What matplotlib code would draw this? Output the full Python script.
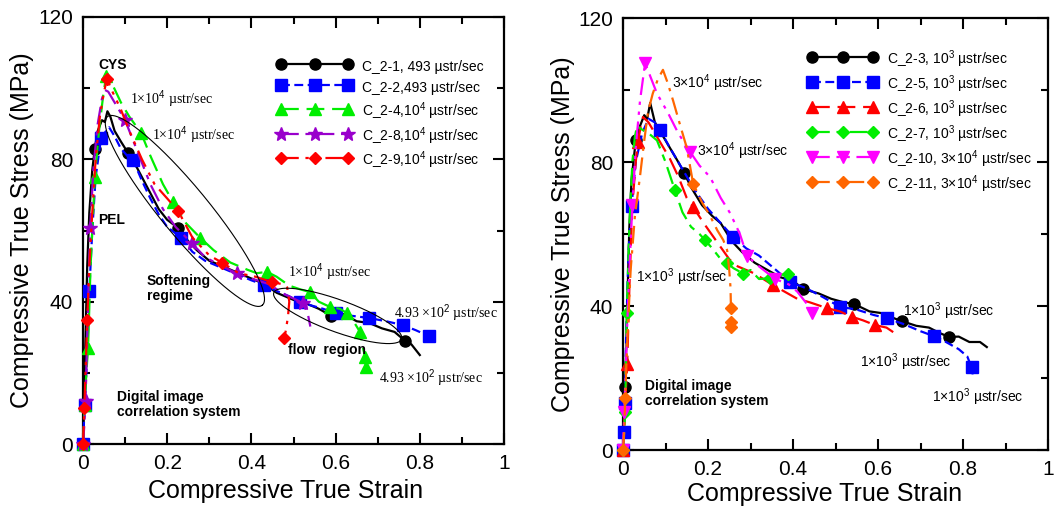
import numpy as np
import matplotlib
matplotlib.use('Agg')
import matplotlib.pyplot as plt
from matplotlib.ticker import MultipleLocator

plt.rcParams['font.family'] = ['Liberation Sans', 'DejaVu Sans']
plt.rcParams['mathtext.fontset'] = 'custom'
plt.rcParams['mathtext.rm'] = 'Liberation Sans'
plt.rcParams['mathtext.it'] = 'Liberation Sans:italic'
plt.rcParams['mathtext.bf'] = 'Liberation Sans:bold'

# ---- axis ticks ----
xticks = [0, 0.2, 0.4, 0.6, 0.8, 1.0]
xtick_labels = ['0', '0.2', '0.4', '0.6', '0.8', '1']
yticks = [0, 40, 80, 120]
ytick_labels = ['0', '40', '80', '120']

# ---- left panel data (strain, stress MPa) ----
x1 = [0, 0.002, 0.004, 0.007, 0.01, 0.015, 0.022, 0.028, 0.035, 0.045, 0.052, 0.058, 0.065, 0.075, 0.09,
      0.107, 0.12, 0.14, 0.16, 0.18, 0.2, 0.226, 0.25, 0.27, 0.3, 0.33, 0.36, 0.4, 0.43, 0.46, 0.5, 0.53,
      0.56, 0.59, 0.62, 0.65, 0.68, 0.71, 0.74, 0.765, 0.78, 0.79, 0.8]
y1 = [0, 8, 20, 35, 50, 65, 77, 83, 88, 91, 90.5, 93.5, 92, 88, 85, 81.8, 79.5, 75, 70.5, 66, 63, 60.7,
      57, 54.5, 51.5, 50, 48.5, 46.5, 45, 42.5, 40.5, 39.5, 38, 36, 36.5, 34.5, 34, 32.5, 31.5, 29, 28,
      26.5, 25]
m1 = [7, 15, 21, 33, 39]

x2 = [0, 0.004, 0.008, 0.012, 0.015, 0.022, 0.03, 0.043, 0.055, 0.062, 0.075, 0.09, 0.105, 0.119, 0.14,
      0.16, 0.18, 0.2, 0.233, 0.26, 0.29, 0.32, 0.36, 0.4, 0.43, 0.46, 0.49, 0.515, 0.54, 0.57, 0.6, 0.64,
      0.68, 0.72, 0.76, 0.79, 0.822]
y2 = [0, 11, 20, 32, 43, 60, 75, 86, 88, 89, 86.5, 83, 81, 79.8, 74, 69, 64.5, 61, 58, 54, 51.5, 50, 48,
      46, 44.7, 43, 41.5, 40, 39, 38, 36.8, 36, 35.4, 34.5, 33.4, 32, 30.3]
m2 = [0, 1, 4, 7, 13, 18, 24, 27, 30, 32, 34, 36]

x4 = [0, 0.004, 0.008, 0.012, 0.018, 0.028, 0.038, 0.048, 0.055, 0.07, 0.09, 0.11, 0.138, 0.16, 0.19,
      0.214, 0.245, 0.278, 0.31, 0.35, 0.39, 0.413, 0.437, 0.46, 0.49, 0.515, 0.539, 0.56, 0.587, 0.61,
      0.627, 0.645, 0.658, 0.665, 0.67, 0.672]
y4 = [0, 11, 20, 27, 50, 75, 88, 98, 103.5, 101, 96, 92, 87.4, 81, 73, 68, 62, 58, 54.5, 51, 49, 48,
      48.4, 47, 44.5, 43.5, 42.7, 40, 38.5, 38, 36.8, 34, 31.5, 27, 24.5, 21.6]
m4 = [0, 1, 3, 5, 8, 12, 15, 17, 22, 26, 28, 30, 32, 34, 35]

x8 = [0, 0.003, 0.006, 0.01, 0.017, 0.025, 0.035, 0.045, 0.052, 0.06, 0.08, 0.1, 0.13, 0.16, 0.19, 0.22,
      0.258, 0.29, 0.33, 0.365, 0.4, 0.44, 0.48, 0.523, 0.535, 0.54]
y8 = [0, 5, 12, 30, 60.7, 78, 90, 97, 99.5, 99, 95, 91, 82, 73, 66, 61, 56.5, 52.5, 50, 48, 46.5, 45, 42,
      39.6, 36, 33]
m8 = [0, 2, 4, 11, 16, 19, 23]

x9 = [0, 0.003, 0.006, 0.01, 0.015, 0.022, 0.03, 0.04, 0.05, 0.057, 0.07, 0.09, 0.11, 0.14, 0.17, 0.2,
      0.226, 0.26, 0.3, 0.33, 0.37, 0.41, 0.449, 0.47, 0.485, 0.49, 0.487, 0.482, 0.478]
y9 = [0, 10, 20, 34.8, 50, 65, 80, 92, 99, 102.6, 99, 94, 88, 80, 73, 69, 65.5, 58, 53, 51, 48, 47, 45.5,
      45, 44, 40, 36, 32, 29.8]
m9 = [0, 1, 3, 9, 16, 19, 22, 28]

# ---- right panel data ----
x3 = [0, 0.003, 0.005, 0.01, 0.015, 0.02, 0.03, 0.04, 0.05, 0.057, 0.064, 0.075, 0.09, 0.11, 0.13, 0.144,
      0.16, 0.186, 0.21, 0.23, 0.256, 0.28, 0.31, 0.34, 0.37, 0.4, 0.424, 0.46, 0.49, 0.52, 0.543, 0.58,
      0.61, 0.64, 0.656, 0.69, 0.72, 0.745, 0.767, 0.79, 0.815, 0.84, 0.856]
y3 = [0, 8, 17.5, 40, 62, 75, 86, 90, 93, 92, 96.4, 91, 88, 84, 80, 77, 73, 68, 65, 63, 58, 55, 52, 50,
      48, 47, 44.7, 43.5, 42, 41, 40.6, 38.5, 38, 36.5, 35.8, 34.5, 34, 32.5, 31.4, 31.5, 30, 30, 28.6]
m3 = [2, 6, 15, 26, 30, 34, 38]

x5 = [0, 0.002, 0.004, 0.008, 0.013, 0.02, 0.03, 0.045, 0.06, 0.075, 0.087, 0.11, 0.14, 0.17, 0.2, 0.23,
      0.259, 0.29, 0.32, 0.36, 0.393, 0.43, 0.47, 0.51, 0.55, 0.59, 0.621, 0.66, 0.7, 0.732, 0.76, 0.79,
      0.81, 0.82, 0.823]
y5 = [0, 5, 13, 35, 55, 67.8, 80, 88, 92, 91, 89, 84, 78, 72, 67, 63, 59.2, 56, 54, 50, 46.6, 45, 42.5,
      39.8, 39, 37.5, 36.6, 35, 33, 31.6, 30, 28, 26, 23, 21]
m5 = [0, 1, 2, 5, 10, 16, 20, 23, 26, 29, 33]

x6 = [0, 0.003, 0.006, 0.01, 0.015, 0.022, 0.03, 0.035, 0.042, 0.047, 0.06, 0.075, 0.09, 0.11, 0.13, 0.15,
      0.165, 0.19, 0.22, 0.25, 0.27, 0.29, 0.31, 0.33, 0.353, 0.38, 0.41, 0.44, 0.48, 0.51, 0.539, 0.565,
      0.593, 0.62, 0.64]
y6 = [0, 8, 15, 24, 45, 68, 80, 85.6, 90, 92.5, 91, 88, 85, 81, 76, 70, 67.5, 63, 58, 53, 51, 50, 49,
      47.5, 45.8, 44, 42, 41, 39.4, 38.5, 37, 36, 34.7, 34, 32.4]
m6 = [0, 3, 7, 16, 24, 28, 30, 32]

x7 = [0, 0.003, 0.005, 0.009, 0.015, 0.022, 0.028, 0.033, 0.045, 0.06, 0.08, 0.1, 0.122, 0.14, 0.16, 0.18,
      0.193, 0.21, 0.23, 0.245, 0.26, 0.283, 0.3, 0.32, 0.346, 0.365, 0.389, 0.395]
y7 = [0, 6, 10.5, 38, 62, 80, 87, 90, 89, 88, 86, 80, 72.2, 66, 62, 60, 58.3, 56, 53, 51.9, 50.5, 49, 50,
      47.5, 47.7, 48.5, 49, 48.5]
m7 = [0, 2, 3, 12, 16, 19, 21, 24, 26]

x10 = [0, 0.003, 0.006, 0.01, 0.015, 0.022, 0.03, 0.04, 0.052, 0.08, 0.106, 0.13, 0.158, 0.18, 0.205,
       0.23, 0.252, 0.275, 0.292, 0.32, 0.358, 0.39, 0.41, 0.43, 0.445]
y10 = [0, 10.5, 20, 35, 50, 68, 84, 97, 107.5, 99, 93.6, 88, 82.8, 79, 75.8, 70, 65.8, 60, 53.9, 51, 47.5,
       46, 44, 41, 38]
m10 = [0, 1, 5, 8, 12, 18, 20, 24]

x11 = [0, 0.003, 0.005, 0.01, 0.018, 0.028, 0.04, 0.05, 0.059, 0.07, 0.082, 0.094, 0.105, 0.118, 0.135,
       0.15, 0.165, 0.185, 0.205, 0.222, 0.236, 0.245, 0.25, 0.253, 0.254, 0.254, 0.254]
y11 = [0, 5, 14.4, 30, 50, 65, 76, 86, 94, 99, 103, 105.6, 102, 97, 90, 84, 74, 69, 65, 61, 58.3, 55.5,
       50, 45, 39.4, 35.6, 34.2]
m11 = [0, 2, 16, 24, 25, 26]

left_series = [
    (x1, y1, m1, 'C_2-1, 493 µstr/sec', 'black', 'o', 8, '-'),
    (x2, y2, m2, 'C_2-2,493 µstr/sec', '#0000ff', 's', 8, (0, (4, 2))),
    (x4, y4, m4, 'C_2-4,10$^4$ µstr/sec', '#00ee00', '^', 9, (0, (8, 3.5))),
    (x8, y8, m8, 'C_2-8,10$^4$ µstr/sec', '#9900cc', '*', 10, (0, (8, 3, 2, 3))),
    (x9, y9, m9, 'C_2-9,10$^4$ µstr/sec', '#ff0000', 'D', 6.5, (0, (8, 3, 1.5, 3, 1.5, 3))),
]
right_series = [
    (x3, y3, m3, 'C_2-3, 10$^3$ µstr/sec', 'black', 'o', 8, '-'),
    (x5, y5, m5, 'C_2-5, 10$^3$ µstr/sec', '#0000ff', 's', 8, (0, (4, 2))),
    (x6, y6, m6, 'C_2-6, 10$^3$ µstr/sec', '#ff0000', '^', 9, (0, (8, 3.5))),
    (x7, y7, m7, 'C_2-7, 10$^3$ µstr/sec', '#00ee00', 'D', 6.5, (0, (8, 3, 3, 3))),
    (x10, y10, m10, 'C_2-10, 3×10$^4$ µstr/sec', '#ff00ff', 'v', 9, (0, (8, 3, 1.5, 3, 1.5, 3))),
    (x11, y11, m11, 'C_2-11, 3×10$^4$ µstr/sec', '#ff6600', 'D', 6.5, (0, (8, 3, 1.5, 3))),
]


def style_axes(ax):
    ax.set_xlim(0, 1)
    ax.set_ylim(0, 120)
    ax.set_xticks(xticks, labels=xtick_labels)
    ax.set_yticks(yticks, labels=ytick_labels)
    ax.xaxis.set_minor_locator(MultipleLocator(0.1))
    ax.yaxis.set_minor_locator(MultipleLocator(20))
    ax.tick_params(which='both', direction='in', top=True, right=True, width=1.5,
                   labelsize=15, pad=7)
    ax.tick_params(which='major', length=8)
    ax.tick_params(which='minor', length=5)
    for s in ax.spines.values():
        s.set_linewidth(1.6)
    ax.set_xlabel('Compressive True Strain', fontsize=18)
    ax.set_ylabel('Compressive True Stress (MPa)', fontsize=18)


def draw_series(ax, series):
    for x, y, m, lab, col, mk, ms, ls in series:
        ax.plot(x, y, color=col, ls=ls, lw=1.6, marker=mk, ms=ms, markevery=m,
                markeredgecolor=col, label=lab, clip_on=False, zorder=3)


def draw_ellipse(ax, cx, cy, a_px, b_px, ang_deg):
    # ellipse sized in pixels, centred at a data point
    c = ax.transData.transform((cx, cy))
    t = np.linspace(0, 2 * np.pi, 300)
    th = np.deg2rad(ang_deg)
    ex = a_px * np.cos(t)
    ey = b_px * np.sin(t)
    px = c[0] + ex * np.cos(th) - ey * np.sin(th)
    py = c[1] + ex * np.sin(th) + ey * np.cos(th)
    pts = ax.transData.inverted().transform(np.column_stack([px, py]))
    ax.plot(pts[:, 0], pts[:, 1], color='black', lw=0.8, zorder=4)


fig = plt.figure(figsize=(10.62, 5.13), dpi=100)
axL = fig.add_axes([83 / 1062, 1 - 444 / 513, 421 / 1062, 427 / 513])
axR = fig.add_axes([623 / 1062, 1 - 450 / 513, 425 / 1062, 432 / 513])

for ax in (axL, axR):
    style_axes(ax)

axL.xaxis.set_label_coords(0.48, -0.082)
axL.yaxis.set_label_coords(-0.116, 0.5)
axR.xaxis.set_label_coords(0.475, -0.074)
axR.yaxis.set_label_coords(-0.112, 0.5)

draw_series(axL, left_series)
draw_series(axR, right_series)

axL.legend(loc='upper left', bbox_to_anchor=(0.461, 0.907), frameon=False, fontsize=10,
           numpoints=3, handlelength=5.4, handleheight=1.7, handletextpad=0.7,
           labelspacing=0.22, borderaxespad=0, borderpad=0)
axR.legend(loc='upper left', bbox_to_anchor=(0.435, 0.93), frameon=False, fontsize=10,
           numpoints=3, handlelength=5.0, handleheight=1.7, handletextpad=0.7,
           labelspacing=0.25, borderaxespad=0, borderpad=0)

# ---- left annotations ----
serif = ['Liberation Serif', 'DejaVu Serif']
bold = dict(fontsize=10, fontweight='bold')
axL.text(0.071, 106.5, 'CYS', ha='center', va='center', **bold)
axL.text(0.069, 63, 'PEL', ha='center', va='center', **bold)
axL.text(0.112, 97, '1×10$^4$ µstr/sec', fontsize=10, family=serif, va='center')
axL.text(0.164, 86.8, '1×10$^4$ µstr/sec', fontsize=10, family=serif, va='center')
axL.text(0.152, 43.8, 'Softening\nregime', va='center', linespacing=1.1, **bold)
axL.text(0.487, 48.3, '1×10$^4$ µstr/sec', fontsize=10, family=serif, va='center')
axL.text(0.739, 36.8, '4.93 ×10$^2$ µstr/sec', fontsize=10, family=serif, va='center')
axL.text(0.487, 26.4, 'flow  region', va='center', **bold)
axL.text(0.703, 18.5, '4.93 ×10$^2$ µstr/sec', fontsize=10, family=serif, va='center')
axL.text(0.081, 11, 'Digital image\ncorrelation system', va='center', linespacing=1.1, **bold)

draw_ellipse(axL, 0.242, 65.5, 122, 24, -50.6)
draw_ellipse(axL, 0.605, 36.0, 68, 16, -20)

# ---- right annotations ----
axR.text(0.115, 102, '3×10$^4$ µstr/sec', fontsize=10, va='center')
axR.text(0.174, 83, '3×10$^4$ µstr/sec', fontsize=10, va='center')
axR.text(0.031, 48, '1×10$^3$ µstr/sec', fontsize=10, va='center')
axR.text(0.659, 38.6, '1×10$^3$ µstr/sec', fontsize=10, va='center')
axR.text(0.558, 24.4, '1×10$^3$ µstr/sec', fontsize=10, va='center')
axR.text(0.727, 14.7, '1×10$^3$ µstr/sec', fontsize=10, va='center')
axR.text(0.052, 15.8, 'Digital image\ncorrelation system', va='center', linespacing=1.1, **bold)

fig.savefig('out.png', dpi=100)
